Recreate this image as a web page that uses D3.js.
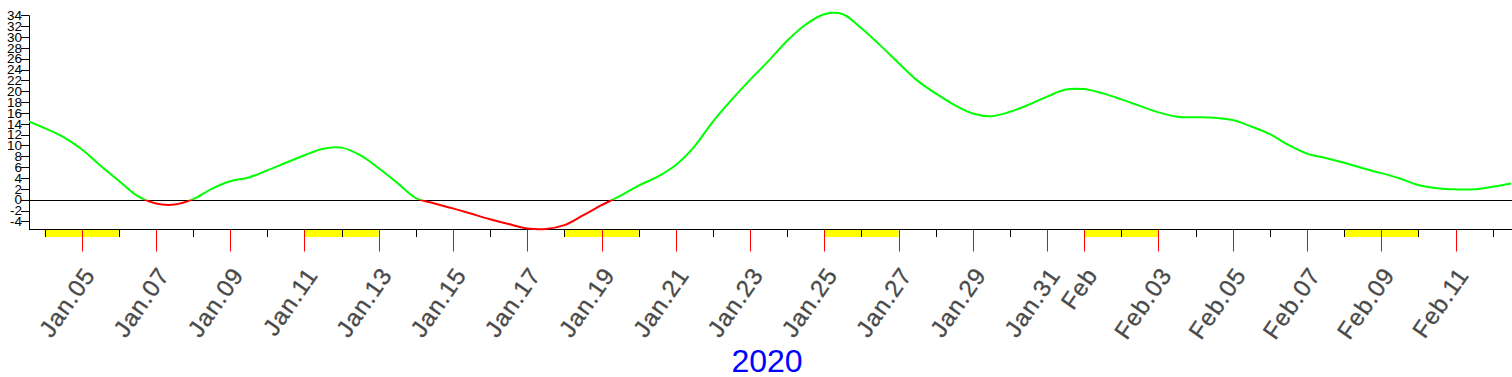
<!DOCTYPE html>
<html>
<head>
<meta charset="utf-8">
<script src="https://cdn.jsdelivr.net/npm/d3@7"></script>
<style>
  body { margin: 0; background: #fff; }
  svg { display: block; }
</style>
</head>
<body>
<svg class="chart" width="1512" height="377"></svg>
<script>
// values, one every 12 hours
var times = [
  "2020-01-03 12","2020-01-04 00","2020-01-04 12","2020-01-05 00","2020-01-05 12","2020-01-06 00","2020-01-06 12",
  "2020-01-07 00","2020-01-07 12","2020-01-08 00","2020-01-08 12","2020-01-09 00","2020-01-09 12","2020-01-10 00",
  "2020-01-10 12","2020-01-11 00","2020-01-11 12","2020-01-12 00","2020-01-12 12","2020-01-13 00","2020-01-13 12",
  "2020-01-14 00","2020-01-14 12","2020-01-15 00","2020-01-15 12","2020-01-16 00","2020-01-16 12","2020-01-17 00",
  "2020-01-17 12","2020-01-18 00","2020-01-18 12","2020-01-19 00","2020-01-19 12","2020-01-20 00","2020-01-20 12",
  "2020-01-21 00","2020-01-21 12","2020-01-22 00","2020-01-22 12","2020-01-23 00","2020-01-23 12","2020-01-24 00",
  "2020-01-24 12","2020-01-25 00","2020-01-25 12","2020-01-26 00","2020-01-26 12","2020-01-27 00","2020-01-27 12",
  "2020-01-28 00","2020-01-28 12","2020-01-29 00","2020-01-29 12","2020-01-30 00","2020-01-30 12","2020-01-31 00",
  "2020-01-31 12","2020-02-01 00","2020-02-01 12","2020-02-02 00","2020-02-02 12","2020-02-03 00","2020-02-03 12",
  "2020-02-04 00","2020-02-04 12","2020-02-05 00","2020-02-05 12","2020-02-06 00","2020-02-06 12","2020-02-07 00",
  "2020-02-07 12","2020-02-08 00","2020-02-08 12","2020-02-09 00","2020-02-09 12","2020-02-10 00","2020-02-10 12",
  "2020-02-11 00","2020-02-11 12","2020-02-12 00","2020-02-12 12"
];
var values = [
  14.6, 13.2, 11.6, 9.3, 6.3, 3.5, 0.7,
  -0.7, -0.9, 0.1, 2.0, 3.4, 4.1, 5.4,
  6.8, 8.2, 9.4, 9.6, 8.2, 5.8, 3.1,
  0.3, -0.7, -1.6, -2.6, -3.6, -4.5, -5.3,
  -5.4, -4.7, -2.9, -1.0, 0.7, 2.6, 4.2,
  6.4, 9.8, 14.4, 18.4, 22.1, 25.6, 29.3,
  32.3, 34.2, 34.2, 31.6, 28.5, 25.2, 22.0,
  19.6, 17.5, 15.9, 15.4, 16.2, 17.5, 19.0,
  20.3, 20.4, 19.6, 18.5, 17.3, 16.1, 15.3,
  15.2, 15.1, 14.7, 13.5, 12.1, 10.1, 8.5,
  7.7, 6.8, 5.8, 4.9, 3.9, 2.7, 2.1,
  1.9, 1.9, 2.4, 3.0
];
var yTicks = [-4, -2, 0, 2, 4, 6, 8, 10, 12, 14, 16, 18, 20, 22, 24, 26, 28, 30, 32, 34];
var weekends = [
  ["2020-01-04", "2020-01-06"], ["2020-01-11", "2020-01-13"], ["2020-01-18", "2020-01-20"],
  ["2020-01-25", "2020-01-27"], ["2020-02-01", "2020-02-03"], ["2020-02-08", "2020-02-10"]
];
var yearLabel = "2020";

var parseT = d3.timeParse("%Y-%m-%d %H"),
    parseD = d3.timeParse("%Y-%m-%d");

var data = times.map(function(t, i) { return {t: parseT(t), v: values[i]}; });

var svg = d3.select(".chart"),
    padL = 29, padR = 1512, padT = 15.3, padB = 229.5;

var x = d3.scaleTime()
    .domain([parseT("2020-01-03 12"), parseT("2020-02-12 12")])
    .range([26, 1511.2]);

var y = d3.scaleLinear()
    .domain([-5.5, 34])
    .range([padB, padT]);

var y0 = y(0);

// clip areas for the positive (green) and negative (red) parts
var defs = svg.append("defs");
defs.append("clipPath").attr("id", "pos")
  .append("rect").attr("x", padL).attr("y", 0).attr("width", padR - padL).attr("height", y0);
defs.append("clipPath").attr("id", "neg")
  .append("rect").attr("x", padL).attr("y", y0).attr("width", padR - padL).attr("height", padB - y0 + 2);

// weekend bars under the x axis
svg.selectAll(".wk")
  .data(weekends)
  .enter().append("rect")
  .attr("x", function(d) { return x(parseD(d[0])); })
  .attr("y", padB + 0.5)
  .attr("width", function(d) { return x(parseD(d[1])) - x(parseD(d[0])); })
  .attr("height", 7)
  .attr("fill", "#ffff00");

// day ticks
var days = d3.timeDay.range(parseD("2020-01-04"), parseD("2020-02-13"));
var odd = function(d) { return d.getDate() % 2 === 1; };

svg.selectAll(".dt")
  .data(days)
  .enter().append("line")
  .attr("x1", function(d) { return Math.round(x(d)) + 0.5; })
  .attr("x2", function(d) { return Math.round(x(d)) + 0.5; })
  .attr("y1", padB)
  .attr("y2", function(d) { return odd(d) ? padB + 22 : padB + 7.5; })
  .attr("stroke", function(d) { return odd(d) ? "#ff0000" : "#000"; })
  .attr("stroke-width", 1);

var fmtDay = d3.timeFormat("%b.%d"), fmtMon = d3.timeFormat("%b");

svg.selectAll(".dl")
  .data(days.filter(odd))
  .enter().append("text")
  .attr("transform", function(d) { return "translate(" + (x(d) + 14.5) + "," + 275 + ") rotate(-55)"; })
  .attr("text-anchor", "end")
  .style("font-family", "Arial, 'Liberation Sans', sans-serif")
  .style("font-size", "24px")
  .style("letter-spacing", "1px")
  .attr("fill", "#4a4a4a")
  .attr("stroke", "#4a4a4a")
  .attr("stroke-width", 0.3)
  .text(function(d) { return d.getDate() === 1 ? fmtMon(d) : fmtDay(d); });

// y axis
svg.selectAll(".yt")
  .data(yTicks)
  .enter().append("line")
  .attr("x1", 21).attr("x2", padL)
  .attr("y1", function(d) { return Math.round(y(d)) + 0.5; })
  .attr("y2", function(d) { return Math.round(y(d)) + 0.5; })
  .attr("stroke", "#000");

svg.selectAll(".yl")
  .data(yTicks)
  .enter().append("text")
  .attr("x", 22)
  .attr("y", function(d) { return y(d) + 4.8; })
  .attr("text-anchor", "end")
  .style("font-family", "Arial, 'Liberation Sans', sans-serif")
  .style("font-size", "13.5px")
  .attr("fill", "#000")
  .text(function(d) { return d; });

svg.append("line")
  .attr("x1", padL + 0.5).attr("x2", padL + 0.5)
  .attr("y1", padT).attr("y2", padB)
  .attr("stroke", "#000");

svg.append("line")
  .attr("x1", padL).attr("x2", padR)
  .attr("y1", padB).attr("y2", padB)
  .attr("stroke", "#000");

// zero line
svg.append("line")
  .attr("x1", padL).attr("x2", padR)
  .attr("y1", Math.round(y0) + 0.5).attr("y2", Math.round(y0) + 0.5)
  .attr("stroke", "#000");

// curve
var line = d3.line()
    .x(function(d) { return x(d.t); })
    .y(function(d) { return y(d.v); })
    .curve(d3.curveCatmullRom.alpha(0.5));

svg.append("path")
  .datum(data)
  .attr("clip-path", "url(#pos)")
  .attr("d", line)
  .attr("fill", "none")
  .attr("stroke", "#00ff00")
  .attr("stroke-width", 2);

svg.append("path")
  .datum(data)
  .attr("clip-path", "url(#neg)")
  .attr("d", line)
  .attr("fill", "none")
  .attr("stroke", "#ff0000")
  .attr("stroke-width", 2);

svg.append("text")
  .attr("x", 767)
  .attr("y", 372)
  .attr("text-anchor", "middle")
  .style("font-family", "Arial, 'Liberation Sans', sans-serif")
  .style("font-size", "32px")
  .attr("fill", "#0000ff")
  .text(yearLabel);
</script>
</body>
</html>
